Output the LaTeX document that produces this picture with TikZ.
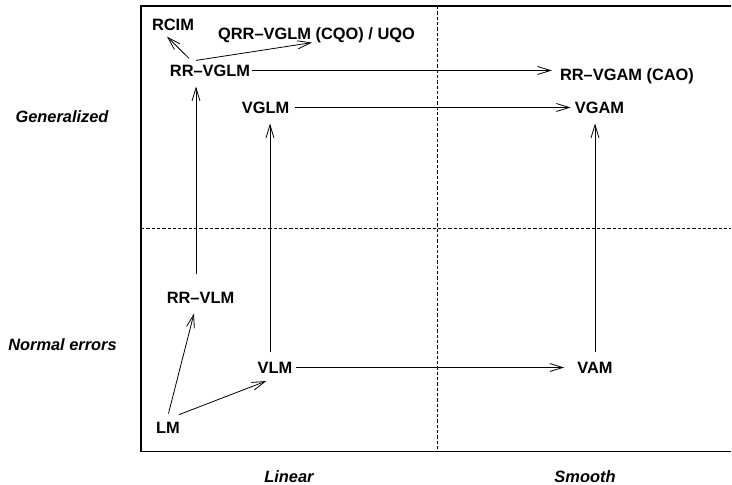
\documentclass[tikz,border=0pt]{standalone}
\usepackage{fontspec}
\setmainfont{Liberation Sans}
\usetikzlibrary{arrows.meta}
\begin{document}
\begin{tikzpicture}[x=1pt,y=-1pt,
  lbl/.style={font=\fontsize{16.4}{19}\selectfont\bfseries, inner xsep=2pt, inner ysep=6pt, text height=11.8pt, text depth=0pt},
  axl/.style={font=\fontsize{16.4}{19}\selectfont\bfseries\itshape, inner sep=0pt, text height=11.8pt, text depth=0pt},
  arr/.style={line width=0.8pt, -{Straight Barb[length=13pt,width=8pt,line width=0.8pt]}},
  frame/.style={line width=1.1pt},
  grid/.style={line width=0.8pt, dash pattern=on 3.3pt off 2pt}]
\useasboundingbox (0,0) rectangle (732,485);
% frame
\draw[frame] (731,6) -- (141,6) -- (141,451.5) -- (731,451.5);
\draw[grid] (437,6) -- (437,451.5);
\draw[grid] (141,228.5) -- (731,228.5);
% axis labels
\node[axl] (gen) at (62,116.5) {Generalized};
\node[axl] (norm) at (62.5,344.5) {Normal errors};
\node[axl] (lin) at (289,476.5) {Linear};
\node[axl] (smo) at (585,476.5) {Smooth};
% nodes
\node[lbl] (rcim) at (173,24.5) {RCIM};
\node[lbl] (qrr) at (316.5,33.5) {QRR–VGLM (CQO) / UQO};
\node[lbl] (rrvglm) at (210,70.5) {RR–VGLM};
\node[lbl] (rrvgam) at (627,75) {RR–VGAM (CAO)};
\node[lbl] (vglm) at (265.5,107.5) {VGLM};
\node[lbl] (vgam) at (599.5,107.5) {VGAM};
\node[lbl] (rrvlm) at (200.5,297.5) {RR–VLM};
\node[lbl] (vlm) at (275,367.5) {VLM};
\node[lbl] (vam) at (595,367.5) {VAM};
\node[lbl] (lm) at (168,427.5) {LM};
% connectors
\draw[arr] ([xshift=-21pt]rrvglm.north) -- ([xshift=-6pt]rcim.south);
\draw[arr] ([xshift=-14pt,yshift=-2pt]rrvglm.north) -- ([xshift=-4.5pt,yshift=3pt]qrr.south);
\draw[arr] (rrvglm.east) -- ([xshift=-6pt]rrvglm.east -| rrvgam.west);
\draw[arr] ([xshift=4pt]vglm.east) -- ([xshift=-2pt]vglm.east -| vgam.west);
\draw[arr, shorten <=11pt, shorten >=4pt] ([xshift=-4.5pt]rrvlm.north) -- ([xshift=-4.5pt]rrvlm.north |- rrvglm.south);
\draw[arr, shorten <=3pt, shorten >=4pt] ([xshift=-5pt]vlm.north) -- ([xshift=-5pt]vlm.north |- vglm.south);
\draw[arr, shorten <=3pt, shorten >=4pt] (vam.north) -- (vam.north |- vgam.south);
\draw[arr, shorten >=11pt] ([xshift=1pt]vlm.east) -- (vlm.east -| vam.west);
\draw[arr, shorten <=2pt, shorten >=4pt] (lm.north) -- ([xshift=-5.5pt]rrvlm.south);
\draw[arr, shorten <=2pt, shorten >=4pt] ([xshift=9pt]lm.north) -- ([xshift=-5pt]vlm.south);
\end{tikzpicture}
\end{document}
